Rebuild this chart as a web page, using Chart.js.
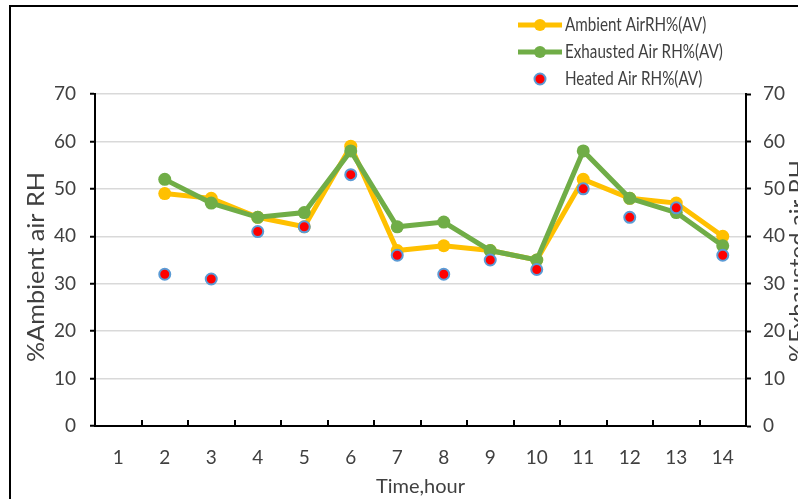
<!DOCTYPE html>
<html>
<head>
<meta charset="utf-8">
<title>Relative humidity by hour</title>
<script src="https://cdn.jsdelivr.net/npm/chart.js@4.4.1/dist/chart.umd.min.js"></script>
<style>
  html, body { margin: 0; padding: 0; background: #fff; }
  #wrap { position: relative; width: 798px; height: 499px; overflow: hidden; }
  #frame { position: absolute; left: 9px; top: 5px; width: 800px; height: 500px;
           border-left: 2px solid #000; border-top: 2px solid #000; box-sizing: border-box; }
  canvas { position: absolute; left: 0; top: 0; }
</style>
</head>
<body>
<div id="wrap">
  <div id="frame"></div>
  <canvas id="c" width="798" height="499"></canvas>
</div>
<script>
// Hours on the x axis
const hours = ['1', '2', '3', '4', '5', '6', '7', '8', '9', '10', '11', '12', '13', '14'];

// Average relative humidity (%) per hour
const ambientRH   = [null, 49, 48, 44, 42, 59, 37, 38, 37, 35, 52, 48, 47, 40];
const exhaustedRH = [null, 52, 47, 44, 45, 58, 42, 43, 37, 35, 58, 48, 45, 38];
const heatedRH    = [null, 32, 31, 41, 42, 53, 36, 32, 35, 33, 50, 44, 46, 36];

// Axis range
const rhMin = 0;
const rhMax = 70;
const rhStep = 10;

const FONT = "Lato, 'Noto Sans', sans-serif";
const TEXT = '#404040';
const AMBER = '#FFC000';
const GREEN = '#70AD47';
const RED = '#FF0000';
const BLUE = '#5B9BD5';

const legendItems = [
  { text: 'Ambient AirRH%(AV)', color: AMBER, kind: 'line' },
  { text: 'Exhausted Air RH%(AV)', color: GREEN, kind: 'line' },
  { text: 'Heated Air RH%(AV)', color: RED, kind: 'dot' }
];

// Draws narrow, tall text: horizontally squeezed by sx
function condensedText(ctx, text, x, y, sx) {
  ctx.save();
  ctx.translate(x, y);
  ctx.scale(sx, 1);
  ctx.fillText(text, 0, 0);
  ctx.restore();
}

// Rotated axis title (reads bottom to top) stretched to a given length
function sideTitle(ctx, text, cx, cy, size, length) {
  ctx.save();
  ctx.font = size + 'px ' + FONT;
  const w = ctx.measureText(text).width;
  ctx.translate(cx, cy);
  ctx.rotate(-Math.PI / 2);
  ctx.scale(length / w, 1);
  ctx.textAlign = 'center';
  ctx.textBaseline = 'middle';
  ctx.fillStyle = TEXT;
  ctx.fillText(text, 0, 0);
  ctx.restore();
}

// Legend, inward x-axis tick marks and the axis titles
const decorations = {
  id: 'decorations',
  afterDraw(chart) {
    const ctx = chart.ctx;
    const x = chart.scales.x;
    const area = chart.chartArea;
    ctx.save();

    // tick marks between hour categories, pointing up into the plot
    const step = (x.right - x.left) / hours.length;
    ctx.strokeStyle = '#000';
    ctx.lineWidth = 2;
    ctx.beginPath();
    for (let k = 0; k <= hours.length; k++) {
      const px = Math.round(x.left + step * k);
      ctx.moveTo(px, area.bottom);
      ctx.lineTo(px, area.bottom - 6);
    }
    ctx.stroke();

    // legend
    const rowY = [25, 52, 79];
    ctx.font = '19px ' + FONT;
    ctx.textBaseline = 'middle';
    ctx.textAlign = 'left';
    legendItems.forEach((it, i) => {
      const y = rowY[i];
      if (it.kind === 'line') {
        ctx.strokeStyle = it.color;
        ctx.lineWidth = 5;
        ctx.beginPath();
        ctx.moveTo(518, y);
        ctx.lineTo(562, y);
        ctx.stroke();
        ctx.fillStyle = it.color;
        ctx.beginPath();
        ctx.arc(540, y, 6, 0, Math.PI * 2);
        ctx.fill();
      } else {
        ctx.fillStyle = RED;
        ctx.strokeStyle = BLUE;
        ctx.lineWidth = 2;
        ctx.beginPath();
        ctx.arc(540, y, 5.5, 0, Math.PI * 2);
        ctx.fill();
        ctx.stroke();
      }
      ctx.fillStyle = TEXT;
      condensedText(ctx, it.text, 565, y, 0.8);
    });
    ctx.restore();

    // axis titles
    const midY = (area.top + area.bottom) / 2;
    sideTitle(ctx, '%Ambient air RH', 37, 267, 23, 190);
    sideTitle(ctx, '%Exhausted air RH', 799, 261, 23, 202);
  }
};

const lineStyle = (color) => ({
  borderColor: color,
  backgroundColor: color,
  borderWidth: 5,
  pointRadius: 6.5,
  pointHoverRadius: 6.5,
  pointBorderWidth: 0,
  pointBackgroundColor: color,
  tension: 0,
  fill: false
});

new Chart(document.getElementById('c'), {
  type: 'line',
  data: {
    labels: hours,
    datasets: [
      Object.assign({ label: 'Ambient AirRH%(AV)', data: ambientRH, yAxisID: 'y', order: 2 }, lineStyle(AMBER)),
      Object.assign({ label: 'Exhausted Air RH%(AV)', data: exhaustedRH, yAxisID: 'y2', order: 1 }, lineStyle(GREEN)),
      {
        label: 'Heated Air RH%(AV)',
        data: heatedRH,
        yAxisID: 'y',
        order: 0,
        showLine: false,
        pointRadius: 5.5,
        pointHoverRadius: 5.5,
        pointBackgroundColor: RED,
        pointBorderColor: BLUE,
        pointBorderWidth: 2,
        borderColor: BLUE,
        backgroundColor: RED
      }
    ]
  },
  options: {
    responsive: false,
    animation: false,
    layout: { padding: { left: 10, top: 94, right: 0, bottom: 0 } },
    plugins: { legend: { display: false }, tooltip: { enabled: false } },
    scales: {
      x: {
        type: 'category',
        offset: true,
        grid: { display: false, drawTicks: false },
        border: { display: true, color: '#000', width: 2 },
        ticks: { color: TEXT, font: { family: FONT, size: 19 }, padding: 20 },
        title: { display: true, text: 'Time,hour', color: TEXT, font: { family: FONT, size: 20 }, padding: { top: 0, bottom: 0 } },
        afterFit(s) { s.height = 73; }
      },
      y: {
        position: 'left',
        min: rhMin, max: rhMax,
        ticks: { stepSize: rhStep, color: TEXT, font: { family: FONT, size: 19 }, padding: 14 },
        grid: { color: '#D9D9D9', lineWidth: 1.5, tickColor: '#000', tickLength: 5, tickWidth: 2 },
        border: { color: '#000', width: 2 },
        afterFit(s) { s.width = 85; }
      },
      y2: {
        position: 'right',
        min: rhMin, max: rhMax,
        ticks: { stepSize: rhStep, color: TEXT, font: { family: FONT, size: 19 }, padding: 12 },
        grid: { drawOnChartArea: false, tickColor: '#000', tickLength: 5, tickWidth: 2 },
        border: { color: '#000', width: 2 },
        afterFit(s) { s.width = 52; }
      }
    }
  },
  plugins: [decorations]
});
</script>
</body>
</html>
